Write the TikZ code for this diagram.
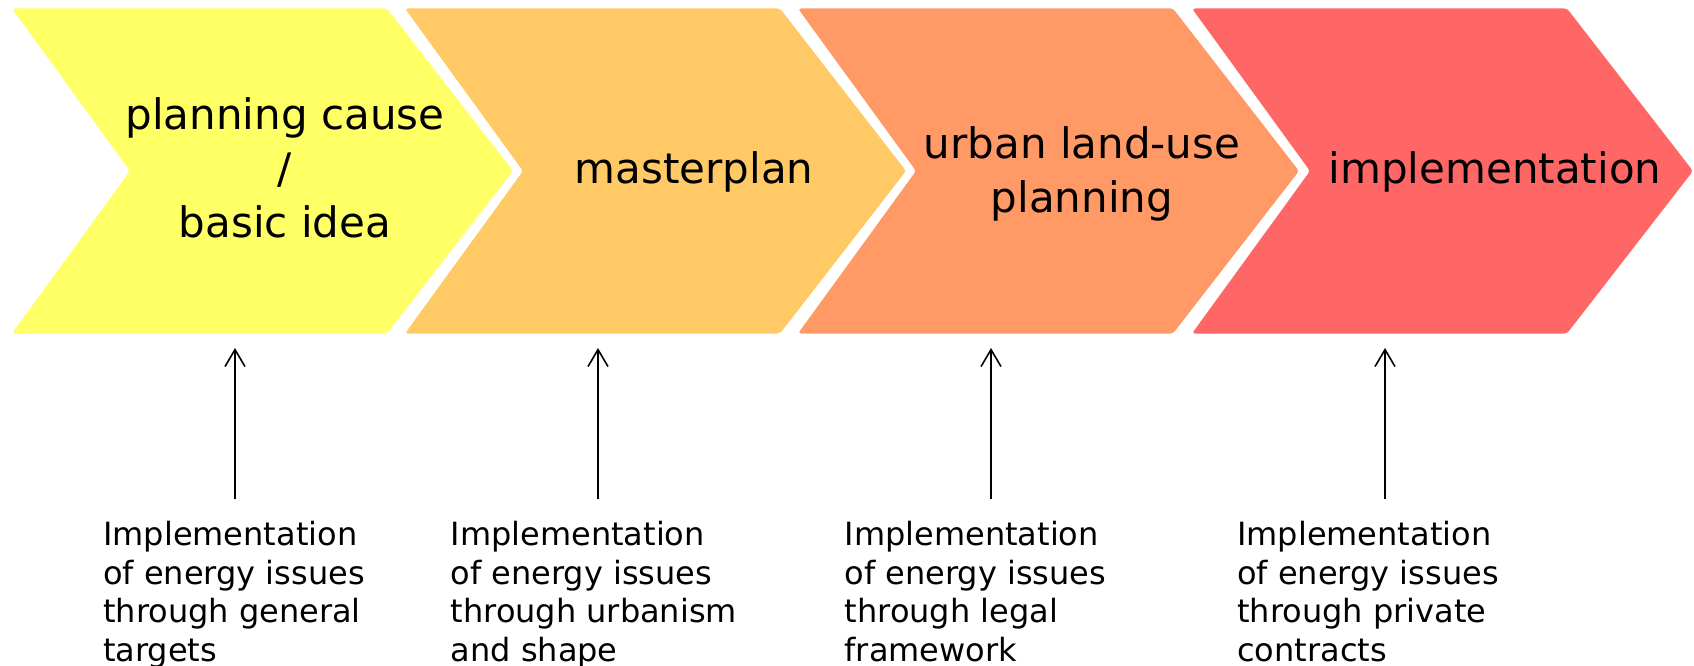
\documentclass[tikz,border=0pt]{standalone}
\usepackage{fontspec}
\setmainfont{DejaVu Sans}
\usetikzlibrary{arrows.meta}
\definecolor{stageA}{HTML}{FFFF66}
\definecolor{stageB}{HTML}{FFCA66}
\definecolor{stageC}{HTML}{FF9966}
\definecolor{stageD}{HTML}{FF6666}
\begin{document}
\begin{tikzpicture}[x=1pt,y=-1pt,
  stage/.style={fill=#1, rounded corners=3pt},
  stagelabel/.style={inner sep=0pt, align=center, font=\fontsize{42}{54}\selectfont},
  note/.style={inner sep=0pt, align=left, anchor=north west, font=\fontsize{32}{38.5}\selectfont},
  feed/.style={-{Straight Barb[length=17pt,width=20pt]}, line width=1.6pt}]
\useasboundingbox (0,0) rectangle (1694,666);

% chevron stages
\foreach \L/\c in {12/stageA, 405/stageB, 798/stageC, 1192/stageD}
  \fill[stage=\c] (\L,8.5) -- ++(375,0) -- ++(126,162.5) -- ++(-126,162.5)
    -- ++(-375,0) -- ++(118,-162.5) -- cycle;

% stage labels
\node[stagelabel] (s1) at (285,168) {planning cause\\/\\basic idea};
\node[stagelabel] (s2) at (694,172) {masterplan};
\node[stagelabel] (s3) at (1082,174) {urban land-use\\planning};
\node[stagelabel] (s4) at (1495,172) {implementation};

% notes below the stages
\node[note] (n1) at (103,521) {Implementation\\of energy issues\\through general\\targets};
\node[note] (n2) at (450.5,521) {Implementation\\of energy issues\\through urbanism\\and shape};
\node[note] (n3) at (844.5,521) {Implementation\\of energy issues\\through legal\\framework};
\node[note] (n4) at (1237,521) {Implementation\\of energy issues\\through private\\contracts};

% arrows from the notes up to the stages
\coordinate (f1a) at (235,499);  \coordinate (f1b) at (235,348);
\coordinate (f2a) at (598,499);  \coordinate (f2b) at (598,348);
\coordinate (f3a) at (991,499);  \coordinate (f3b) at (991,348);
\coordinate (f4a) at (1385,499); \coordinate (f4b) at (1385,348);
\draw[feed] (f1a) -- (f1b);
\draw[feed] (f2a) -- (f2b);
\draw[feed] (f3a) -- (f3b);
\draw[feed] (f4a) -- (f4b);
\end{tikzpicture}
\end{document}
